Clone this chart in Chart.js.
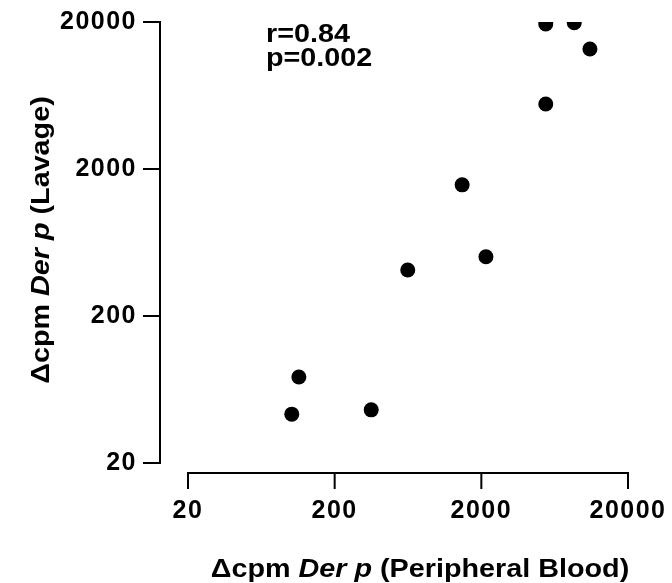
<!DOCTYPE html>
<html>
<head>
<meta charset="utf-8">
<script src="https://cdn.jsdelivr.net/npm/chart.js@4.4.1/dist/chart.umd.min.js"></script>
<style>
  html, body { margin: 0; padding: 0; background: #fff; }
  canvas { display: block; }
</style>
</head>
<body>
<canvas id="c" width="672" height="583"></canvas>
<script>
// Data (log-log scatter)
const bloodCpm  = [5500, 8600, 11000, 5500, 1480, 2150, 630, 114, 102, 355];
const lavageCpm = [19400, 19800, 13100, 5540, 1560, 506, 411, 77, 43, 46];
const tickValues = [20, 200, 2000, 20000];
const annotationLines = ['r=0.84', 'p=0.002'];
const xTitleParts = [['Δcpm ', 'bold'], ['Der p', 'italic bold'], [' (Peripheral Blood)', 'bold']];
const yTitleParts = [['Δcpm ', 'bold'], ['Der p', 'italic bold'], [' (Lavage)', 'bold']];

const FONT_FAMILY = '"Liberation Sans", Arial, Helvetica, sans-serif';
const FS = 25;
const STRETCH = 1.15;

const points = bloodCpm.map((x, i) => ({ x: x, y: lavageCpm[i] }));

function drawParts(ctx, parts, cx, cy) {
  let total = 0;
  const widths = parts.map(p => {
    ctx.font = p[1] + ' ' + FS + 'px ' + FONT_FAMILY;
    const w = ctx.measureText(p[0]).width;
    total += w;
    return w;
  });
  ctx.save();
  ctx.translate(cx, cy);
  ctx.scale(STRETCH, 1);
  let x = -total / 2;
  parts.forEach((p, i) => {
    ctx.font = p[1] + ' ' + FS + 'px ' + FONT_FAMILY;
    ctx.fillText(p[0], x, 0);
    x += widths[i];
  });
  ctx.restore();
}

const axesPlugin = {
  id: 'prismAxes',
  beforeDraw(chart) {
    chart.ctx.letterSpacing = '1.5px';
  },
  afterDraw(chart) {
    const ctx = chart.ctx;
    ctx.letterSpacing = '0px';
    const xs = chart.scales.x, ys = chart.scales.y;
    const area = chart.chartArea;
    ctx.save();
    ctx.strokeStyle = '#000';
    ctx.fillStyle = '#000';
    ctx.lineWidth = 2;
    ctx.lineCap = 'butt';
    // Y axis (offset to the left)
    const yAxisX = area.left - 28;
    ctx.beginPath();
    ctx.moveTo(yAxisX, ys.getPixelForValue(20000) - 1);
    ctx.lineTo(yAxisX, ys.getPixelForValue(20) + 1);
    ctx.stroke();
    tickValues.forEach(v => {
      const py = ys.getPixelForValue(v);
      ctx.beginPath();
      ctx.moveTo(yAxisX - 17, py);
      ctx.lineTo(yAxisX + 1, py);
      ctx.stroke();
    });
    // X axis (offset downward)
    const xAxisY = area.bottom + 10;
    ctx.beginPath();
    ctx.moveTo(xs.getPixelForValue(20) - 1, xAxisY);
    ctx.lineTo(xs.getPixelForValue(20000) + 1, xAxisY);
    ctx.stroke();
    tickValues.forEach(v => {
      const px = xs.getPixelForValue(v);
      ctx.beginPath();
      ctx.moveTo(px, xAxisY - 1);
      ctx.lineTo(px, xAxisY + 16);
      ctx.stroke();
    });
    // Axis titles
    ctx.textBaseline = 'alphabetic';
    ctx.textAlign = 'left';
    drawParts(ctx, xTitleParts, 420, 577);
    ctx.save();
    ctx.translate(49, 240);
    ctx.rotate(-Math.PI / 2);
    drawParts(ctx, yTitleParts, 0, 0);
    ctx.restore();
    // Annotation
    ctx.font = 'bold ' + FS + 'px ' + FONT_FAMILY;
    ctx.save();
    ctx.translate(266, 0);
    ctx.scale(STRETCH, 1);
    ctx.fillText(annotationLines[0], 0, 42);
    ctx.fillText(annotationLines[1], 0, 66);
    ctx.restore();
    ctx.restore();
  }
};

new Chart(document.getElementById('c'), {
  type: 'scatter',
  data: {
    datasets: [{
      data: points,
      backgroundColor: '#000',
      borderColor: '#000',
      borderWidth: 0,
      pointRadius: 7.5,
      pointHoverRadius: 7.5
    }]
  },
  options: {
    responsive: false,
    devicePixelRatio: 1,
    animation: false,
    layout: { padding: { top: 22, right: 44, left: 0, bottom: 0 } },
    plugins: { legend: { display: false }, tooltip: { enabled: false } },
    scales: {
      x: {
        type: 'logarithmic',
        position: 'bottom',
        min: 20, max: 20000,
        grid: { display: false, drawTicks: true, tickLength: 30 },
        border: { display: false },
        afterBuildTicks: s => { s.ticks = tickValues.map(v => ({ value: v })); },
        afterFit: s => { s.height = 120; },
        ticks: {
          color: '#000',
          padding: 3,
          maxRotation: 0, minRotation: 0, autoSkip: false,
          font: { family: FONT_FAMILY, size: FS, weight: 'bold' },
          callback: v => String(v)
        }
      },
      y: {
        type: 'logarithmic',
        position: 'left',
        min: 20, max: 20000,
        grid: { display: false, drawTicks: true, tickLength: 48 },
        border: { display: false },
        afterBuildTicks: s => { s.ticks = tickValues.map(v => ({ value: v })); },
        afterFit: s => { s.width = 188; },
        ticks: {
          color: '#000',
          padding: 3,
          autoSkip: false,
          font: { family: FONT_FAMILY, size: FS, weight: 'bold' },
          callback: v => String(v)
        }
      }
    }
  },
  plugins: [axesPlugin]
});
</script>
</body>
</html>
